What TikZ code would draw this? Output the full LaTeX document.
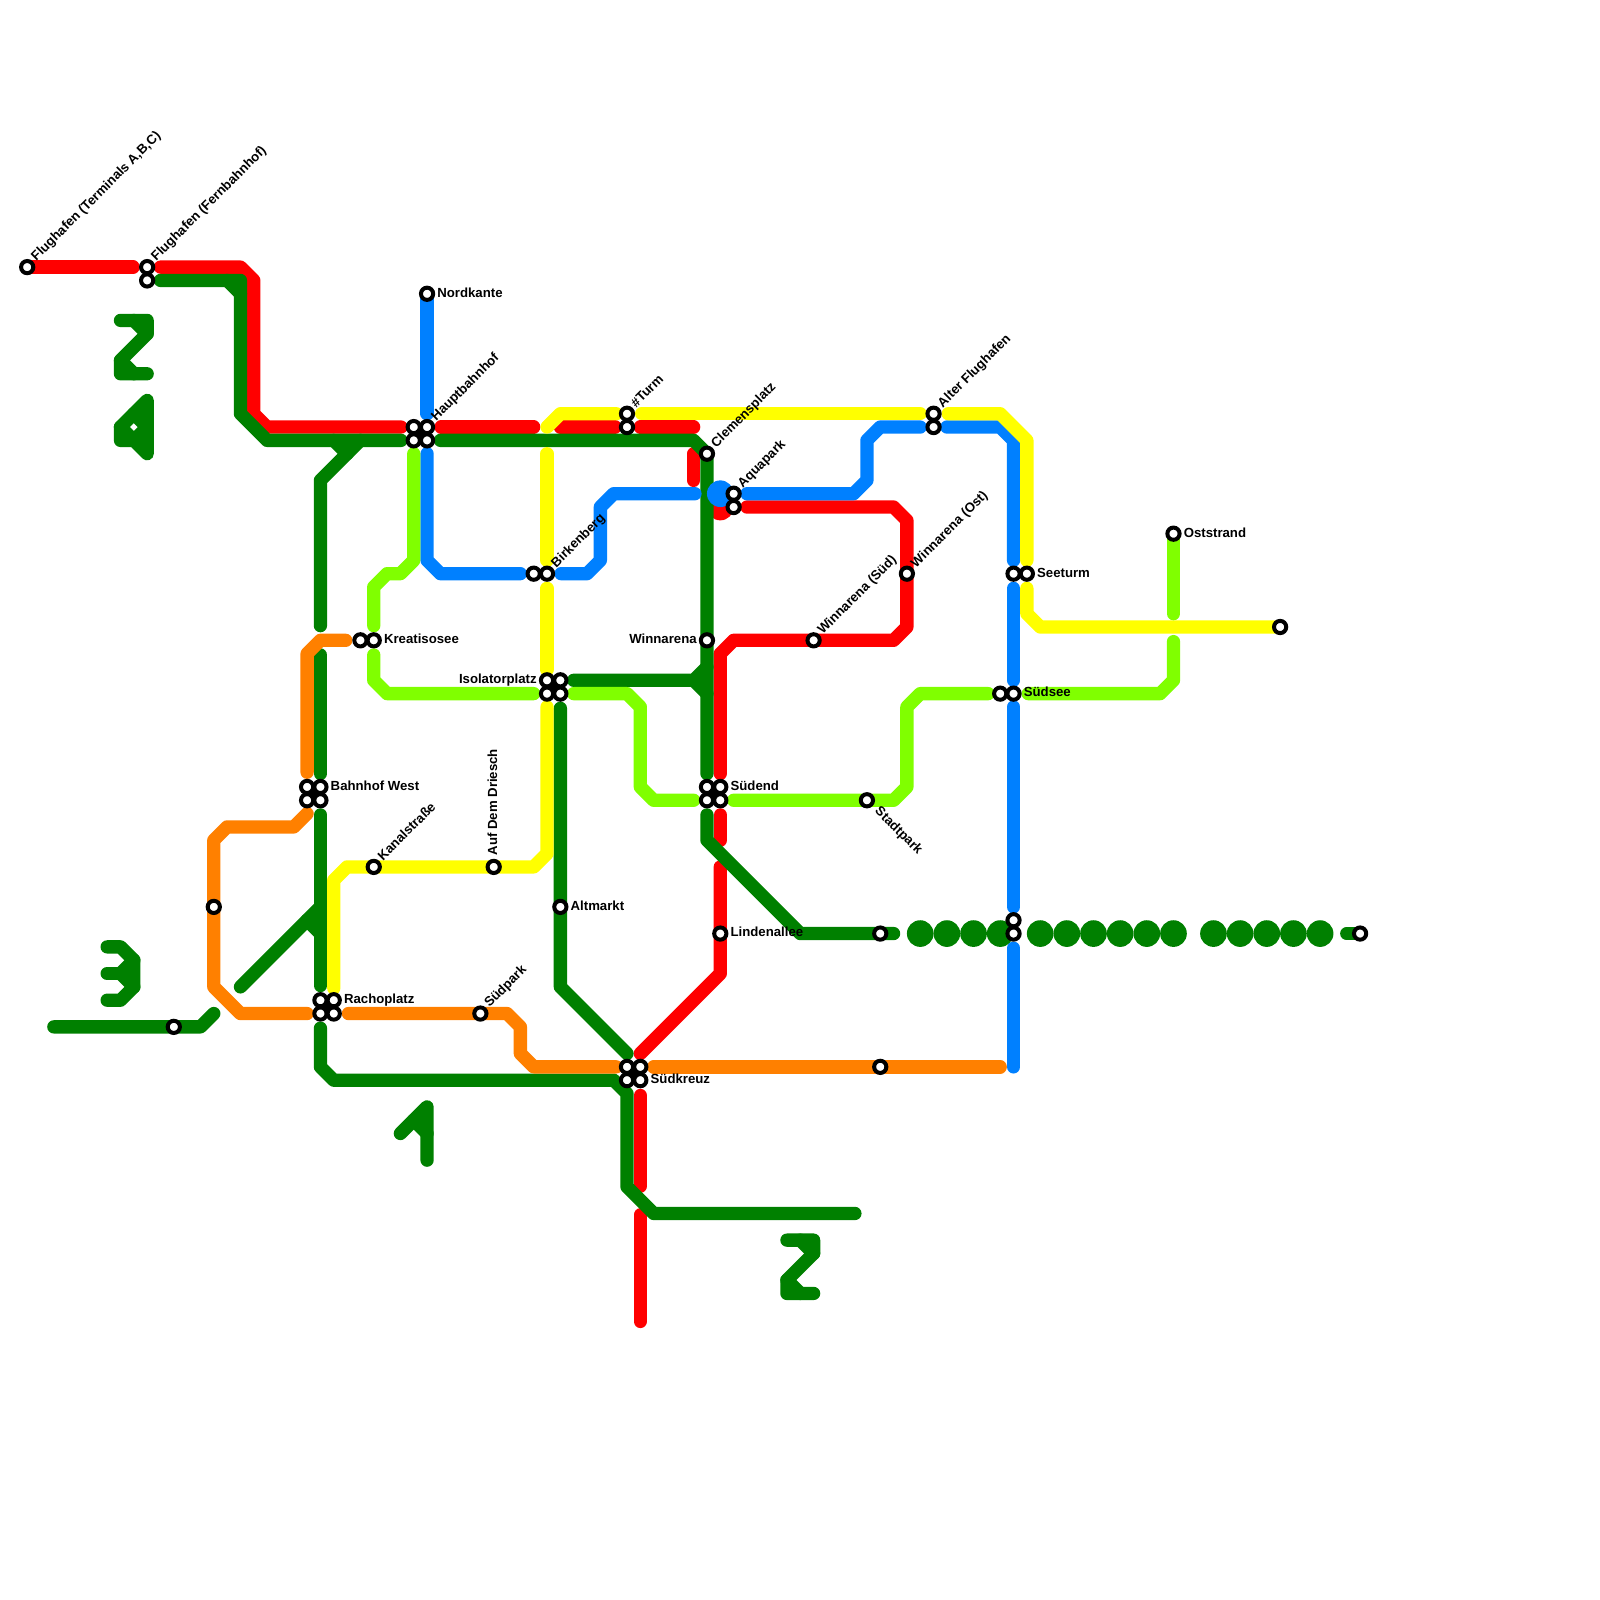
\documentclass[tikz,border=0pt]{standalone}
\usepackage{fontspec}
\usetikzlibrary{calc}
\setmainfont{Liberation Sans}
\definecolor{lred}{HTML}{FF0000}
\definecolor{lgreen}{HTML}{008000}
\definecolor{lblue}{HTML}{0080FF}
\definecolor{lyellow}{HTML}{FFFF00}
\definecolor{lorange}{HTML}{FF8000}
\definecolor{llime}{HTML}{80FF00}
\tikzset{
  metro/.style={line width=3mm,line cap=round,line join=round},
  redl/.style={metro,draw=lred},
  greenl/.style={metro,draw=lgreen},
  bluel/.style={metro,draw=lblue},
  yellowl/.style={metro,draw=lyellow},
  orangel/.style={metro,draw=lorange},
  limel/.style={metro,draw=llime},
  blob/.style={circle,inner sep=0pt,minimum size=6mm},
  stn/.style={circle,draw=black,fill=white,line width=0.9mm,minimum size=2.75mm,inner sep=0pt,outer sep=0pt},
  stnlink/.style={draw=black,line width=1.8mm},
  lab/.style={font=\bfseries\fontsize{8.45}{10}\selectfont,inner sep=0pt,text=black},
  labr/.style={lab,anchor=base west},
  labl/.style={lab,anchor=base east},
  labu/.style={lab,anchor=base west,rotate=45},
  labv/.style={lab,anchor=base west,rotate=90},
  labd/.style={lab,anchor=base west,rotate=-45}
}
\newcommand{\stnquad}[6]{% a b c d x y
  \fill[black] ({#5-0.3},{#6-0.3}) rectangle ({#5+1.3},{#6+1.3});
  \node[stn] (#1) at (#5,#6) {};
  \node[stn] (#2) at ({#5+1},#6) {};
  \node[stn] (#3) at (#5,{#6+1}) {};
  \node[stn] (#4) at ({#5+1},{#6+1}) {};
}
\newcommand{\stnpair}[6]{% a b x1 y1 x2 y2
  \draw[stnlink] (#3,#4) -- (#5,#6);
  \node[stn] (#1) at (#3,#4) {};
  \node[stn] (#2) at (#5,#6) {};
}
\newcommand{\digittwo}[2]{%
  \begin{scope}[shift={(#1,#2)}]
    \draw[greenl] (0,0) -- (2,0) -- (2,1) -- (0,3) -- (0,4) -- (2,4);
    \draw[greenl] (1,0) -- (2,1);
    \draw[greenl] (0,3) -- (1,4);
  \end{scope}
}
\begin{document}
\begin{tikzpicture}[x=3mm,y=-3mm]
\path[use as bounding box,fill=white] (-0.04,-0.04) rectangle (120,120);

% red
\draw[redl] (2,20) -- (9.95,20);
\draw[redl] (12,20) -- (18,20) -- (19,21) -- (19,31) -- (20,32) -- (30.05,32);
\draw[redl] (33.05,32) -- (40,32);
\draw[redl] (42,32) -- (46.1,32);
\draw[redl] (48,32) -- (52,32);
\draw[redl] (52,34) -- (52,36);
\node[blob,fill=lred] (redblob) at (54,38) {};
\draw[redl] (56,38) -- (67,38) -- (68,39) -- (68,47) -- (67,48) -- (55,48) -- (54,49) -- (54,58);
\draw[redl] (54,61.1) -- (54,63);
\draw[redl] (54,65) -- (54,73) -- (48,79);
\draw[redl] (48,82.15) -- (48,88.95);
\draw[redl] (48,91.1) -- (48,99.1);

% green
\draw[greenl] (12,21) -- (18,21) -- (18,31) -- (20,33) -- (30.05,33);
\draw[greenl] (17,21) -- (18,22);
\draw[greenl] (24,46.9) -- (24,36) -- (27,33);
\draw[greenl] (25,33) -- (26,34);
\draw[greenl] (33,33) -- (52,33) -- (53,34) -- (53,58);
\draw[greenl] (43,51) -- (52,51) -- (53,50);
\draw[greenl] (52,51) -- (53,52);
\draw[greenl] (42,53.1) -- (42,74) -- (47,79);
\draw[greenl] (53,61.1) -- (53,63) -- (60,70) -- (67,70);
\draw[greenl] (24,49.1) -- (24,58);
\draw[greenl] (24,61.1) -- (24,73.9);
\draw[greenl] (18,74) -- (24,68);
\draw[greenl] (23,69) -- (24,70);
\draw[greenl] (24,77.1) -- (24,80) -- (25,81) -- (46,81) -- (47,82) -- (47,89) -- (49,91) -- (64.1,91);
\draw[greenl] (4,77) -- (15,77) -- (16,76);
\draw[greenl] (101,70) -- (102,70);
\foreach \gx in {69,71,73,75,78,80,82,84,86,88,91,93,95,97,99}
  \node[blob,fill=lgreen] (dot\gx) at (\gx,70) {};
% digit shapes
\digittwo{9}{24}
\digittwo{59}{93}
\draw[greenl] (9,33) -- (9,32) -- (11,30) -- (11,34) -- (10,33) -- (9,33);
\draw[greenl] (9,32) -- (10,33) -- (11,32) -- (10,31);
\draw[greenl] (8,71) -- (9,71) -- (10,72) -- (10,74) -- (9,75) -- (8,75);
\draw[greenl] (8,73) -- (9,73);
\draw[greenl] (10,72) -- (9,73) -- (10,74);
\draw[greenl] (30,85) -- (32,83) -- (32,87);
\draw[greenl] (31,84) -- (32,85);

% blue
\draw[bluel] (32,22) -- (32,31);
\draw[bluel] (32,34) -- (32,42) -- (33,43) -- (39,43);
\draw[bluel] (42.05,43) -- (44,43) -- (45,42) -- (45,38) -- (46,37) -- (52.1,37);
\node[blob,fill=lblue] (blueblob) at (54,37) {};
\draw[bluel] (56,37) -- (64,37) -- (65,36) -- (65,33) -- (66,32) -- (69,32);
\draw[bluel] (71,32) -- (75,32) -- (76,33) -- (76,42);
\draw[bluel] (76,44.1) -- (76,51);
\draw[bluel] (76,53) -- (76,68);
\draw[bluel] (76,71.1) -- (76,80);

% yellow
\draw[yellowl] (41,32) -- (42,31) -- (46.2,31);
\draw[yellowl] (48.1,31) -- (69,31);
\draw[yellowl] (71.1,31) -- (75,31) -- (77,33) -- (77,42);
\draw[yellowl] (77,44.1) -- (77,46) -- (78,47) -- (96,47);
\draw[yellowl] (41,34) -- (41,42);
\draw[yellowl] (41,44.1) -- (41,50.2);
\draw[yellowl] (41,53) -- (41,64) -- (40,65) -- (26,65) -- (25,66) -- (25,74.1);

% orange
\draw[orangel] (25.9,48) -- (24,48) -- (23,49) -- (23,57.9);
\draw[orangel] (23,61) -- (22,62) -- (17,62) -- (16,63) -- (16,74) -- (18,76) -- (23,76);
\draw[orangel] (26.1,76) -- (38,76) -- (39,77) -- (39,79) -- (40,80) -- (46.2,80);
\draw[orangel] (49,80) -- (75,80);

% lime
\draw[limel] (31,34) -- (31,42) -- (30,43) -- (29,43) -- (28,44) -- (28,46.9);
\draw[limel] (28,49.1) -- (28,51) -- (29,52) -- (40,52);
\draw[limel] (43,52) -- (47,52) -- (48,53) -- (48,59) -- (49,60) -- (52,60);
\draw[limel] (55,60) -- (67,60) -- (68,59) -- (68,53) -- (69,52) -- (74.1,52);
\draw[limel] (77.1,52) -- (87,52) -- (88,51) -- (88,48.1);
\draw[limel] (88,40) -- (88,46);

% stations
\node[stn] (flugt) at (2,20) {};
\stnpair{flugfa}{flugfb}{11}{20}{11}{21}
\node[stn] (nord) at (32,22) {};
\stnquad{hbfa}{hbfb}{hbfc}{hbfd}{31}{32}
\stnpair{turma}{turmb}{47}{31}{47}{32}
\node[stn] (clem) at (53,34) {};
\stnpair{aquaa}{aquab}{55}{37}{55}{38}
\stnpair{birka}{birkb}{40}{43}{41}{43}
\node[stn] (winn) at (53,48) {};
\node[stn] (winns) at (61,48) {};
\node[stn] (winno) at (68,43) {};
\stnpair{altfa}{altfb}{70}{31}{70}{32}
\stnpair{seea}{seeb}{76}{43}{77}{43}
\node[stn] (ost) at (88,40) {};
\node[stn] (yend) at (96,47) {};
\stnpair{sseea}{sseeb}{75}{52}{76}{52}
\stnpair{kreaa}{kreab}{27}{48}{28}{48}
\stnquad{isoa}{isob}{isoc}{isod}{41}{51}
\stnquad{bwa}{bwb}{bwc}{bwd}{23}{59}
\stnquad{sea}{seb}{sec}{sed}{53}{59}
\node[stn] (stadt) at (65,60) {};
\node[stn] (kanal) at (28,65) {};
\node[stn] (ausd) at (37,65) {};
\node[stn] (altm) at (42,68) {};
\node[stn] (lind) at (54,70) {};
\node[stn] (orw) at (16,68) {};
\node[stn] (gre) at (66,70) {};
\stnpair{ma}{mb}{76}{69}{76}{70}
\node[stn] (gend) at (102,70) {};
\stnquad{raa}{rab}{rac}{rad}{24}{75}
\node[stn] (spark) at (36,76) {};
\node[stn] (gwest) at (13,77) {};
\stnquad{ska}{skb}{skc}{skd}{47}{80}
\node[stn] (ore) at (66,80) {};

% labels
\node[labu] (tflugt) at ($(flugt)+(0.68,-0.4)$) {Flughafen (Terminals A,B,C)};
\node[labu] (tflugf) at ($(flugfa)+(0.68,-0.4)$) {Flughafen (Fernbahnhof)};
\node[labr] (tnord) at ($(nord)+(0.75,0.25)$) {Nordkante};
\node[labu] (thbf) at ($(hbfb)+(0.68,-0.4)$) {Hauptbahnhof};
\node[labu] (tturm) at ($(turma)+(0.68,-0.4)$) {\#Turm};
\node[labu] (tclem) at ($(clem)+(0.68,-0.4)$) {Clemensplatz};
\node[labu] (taqua) at ($(aquaa)+(0.68,-0.4)$) {Aquapark};
\node[labu] (tbirk) at ($(birkb)+(0.68,-0.4)$) {Birkenberg};
\node[labl] (twinn) at ($(winn)+(-0.75,0.25)$) {Winnarena};
\node[labu] (twinns) at ($(winns)+(0.68,-0.4)$) {Winnarena (Süd)};
\node[labu] (twinno) at ($(winno)+(0.68,-0.4)$) {Winnarena (Ost)};
\node[labu] (talt) at ($(altfa)+(0.68,-0.4)$) {Alter Flughafen};
\node[labr] (tsee) at ($(seeb)+(0.75,0.25)$) {Seeturm};
\node[labr] (tost) at ($(ost)+(0.75,0.25)$) {Oststrand};
\node[labr] (tssee) at ($(sseeb)+(0.75,0.25)$) {Südsee};
\node[labr] (tkrea) at ($(kreab)+(0.75,0.25)$) {Kreatisosee};
\node[labl] (tiso) at ($(isoa)+(-0.75,0.25)$) {Isolatorplatz};
\node[labr] (tbw) at ($(bwb)+(0.75,0.25)$) {Bahnhof West};
\node[labr] (tse) at ($(seb)+(0.75,0.25)$) {Südend};
\node[labd] (tstadt) at ($(stadt)+(0.55,0.85)$) {Stadtpark};
\node[labu] (tkanal) at ($(kanal)+(0.68,-0.4)$) {Kanalstraße};
\node[labv] (tausd) at ($(ausd)+(0.25,-0.85)$) {Auf Dem Driesch};
\node[labr] (taltm) at ($(altm)+(0.75,0.25)$) {Altmarkt};
\node[labr] (tlind) at ($(lind)+(0.75,0.25)$) {Lindenallee};
\node[labr] (tra) at ($(rab)+(0.75,0.25)$) {Rachoplatz};
\node[labu] (tspark) at ($(spark)+(0.68,-0.4)$) {Südpark};
\node[labr] (tsk) at ($(skd)+(0.75,0.25)$) {Südkreuz};
\end{tikzpicture}
\end{document}
